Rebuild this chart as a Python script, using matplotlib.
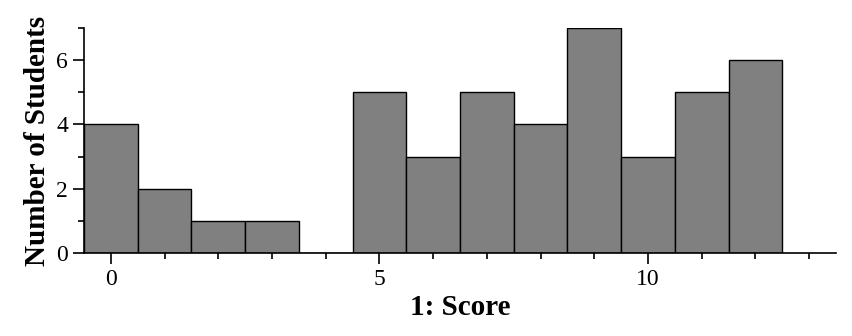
import matplotlib
matplotlib.use('Agg')
import matplotlib.pyplot as plt
from matplotlib.ticker import MultipleLocator

# Score histogram data
scores = [0, 1, 2, 3, 4, 5, 6, 7, 8, 9, 10, 11, 12]
counts = [4, 2, 1, 1, 0, 5, 3, 5, 4, 7, 3, 5, 6]

plt.rcParams['font.family'] = ['Liberation Serif', 'DejaVu Serif']

fig = plt.figure(figsize=(852 / 100, 336 / 100), dpi=100)
ax = fig.add_axes([84 / 852, 1 - 253 / 336, (836 - 84) / 852, (253 - 28) / 336])

ax.bar(scores, counts, width=1.0, color='#808080', edgecolor='black', linewidth=1.0)

ax.set_xlim(-0.5, 13.5)
ax.set_ylim(0, 7)
ax.xaxis.set_major_locator(MultipleLocator(5))
ax.xaxis.set_minor_locator(MultipleLocator(1))
ax.yaxis.set_major_locator(MultipleLocator(2))
ax.yaxis.set_minor_locator(MultipleLocator(1))
ax.tick_params(which='major', length=8, width=1.2, labelsize=17, direction='out')
ax.tick_params(which='minor', length=4, width=1.2, direction='out')

for s in ['top', 'right']:
    ax.spines[s].set_visible(False)
for s in ['left', 'bottom']:
    ax.spines[s].set_linewidth(1.2)

ax.set_xlabel('1: Score', fontsize=21, fontweight='bold', labelpad=3)
ax.set_ylabel('Number of Students', fontsize=21, fontweight='bold', labelpad=4)

fig.savefig('out.png', dpi=100)
